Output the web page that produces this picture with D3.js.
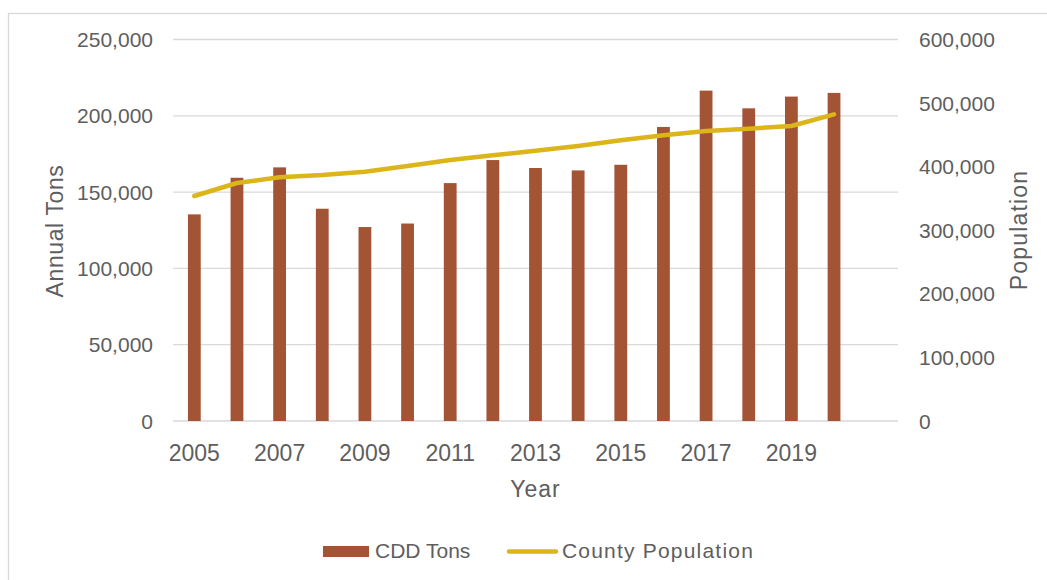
<!DOCTYPE html>
<html>
<head>
<meta charset="utf-8">
<title>CDD Tons and County Population</title>
<script src="https://d3js.org/d3.v7.min.js"></script>
<style>
  body { margin:0; background:#fff; }
  svg text { font-family:"Century Gothic","Liberation Sans",Arial,sans-serif; fill:#5e5e5e; }
</style>
</head>
<body>
<svg width="1047" height="580"></svg>
<script>
// data
const years = ['2005','2006','2007','2008','2009','2010','2011','2012','2013','2014','2015','2016','2017','2018','2019','2020'];
const cddTons = [135400,159400,166200,139100,127100,129400,155900,171000,165800,164200,167900,192700,216500,204900,212600,215000];
const population = [353900,374300,383300,386900,392100,401000,410500,417800,425100,432500,441400,449300,456100,459700,464000,482300];
const leftTicks = [0,50000,100000,150000,200000,250000];
const rightTicks = [0,100000,200000,300000,400000,500000,600000];
const xLabels = ['2005','2007','2009','2011','2013','2015','2017','2019'];

const barColor = '#a35434', lineColor = '#dcb518', gridColor = '#d9d9d9';
const plot = {left:173, right:898, top:39.5, bottom:421};

const svg = d3.select('svg');
const fmt = d3.format(',');

// chart frame
svg.append('rect').attr('x',8.5).attr('y',13.5).attr('width',1100).attr('height',700)
  .attr('fill','none').attr('stroke',gridColor).attr('stroke-width',1.3);

// one empty slot after 2020, like the source chart
const x = d3.scaleBand().domain(years.concat(['_'])).range([plot.left, plot.right])
  .paddingInner(0.7).paddingOuter(0.35);
const yL = d3.scaleLinear().domain([0,250000]).range([plot.bottom, plot.top]);
const yR = d3.scaleLinear().domain([0,600000]).range([plot.bottom, plot.top]);

// gridlines
svg.append('g').selectAll('line').data(leftTicks).join('line')
  .attr('x1',plot.left).attr('x2',plot.right)
  .attr('y1',d=>yL(d)).attr('y2',d=>yL(d))
  .attr('stroke',gridColor).attr('stroke-width',1.3);

// left axis labels
svg.append('g').selectAll('text').data(leftTicks).join('text')
  .attr('x',153).attr('y',d=>yL(d)+7.5).attr('text-anchor','end')
  .style('font-size','21px').text(d=>fmt(d));

// right axis labels
svg.append('g').selectAll('text').data(rightTicks).join('text')
  .attr('x',919).attr('y',d=>yR(d)+7.5).attr('text-anchor','start')
  .style('font-size','21px').text(d=>fmt(d));

// bars
svg.append('g').selectAll('rect').data(years).join('rect')
  .attr('x',d=>x(d)).attr('width',x.bandwidth())
  .attr('y',(d,i)=>yL(cddTons[i])).attr('height',(d,i)=>yL(0)-yL(cddTons[i]))
  .attr('fill',barColor);

// population line
const line = d3.line()
  .x((d,i)=>x(years[i])+x.bandwidth()/2)
  .y(d=>yR(d));
svg.append('path').datum(population).attr('d',line)
  .attr('fill','none').attr('stroke',lineColor).attr('stroke-width',4.5)
  .attr('stroke-linejoin','round').attr('stroke-linecap','round');

// x labels
svg.append('g').selectAll('text').data(xLabels).join('text')
  .attr('x',d=>x(d)+x.bandwidth()/2).attr('y',461).attr('text-anchor','middle')
  .style('font-size','23px').text(d=>d);

// axis titles
svg.append('text').attr('x',(plot.left+plot.right)/2).attr('y',497).attr('text-anchor','middle')
  .style('font-size','23px').style('letter-spacing','1px').text('Year');
svg.append('text').attr('transform','translate(63,231) rotate(-90)').attr('text-anchor','middle')
  .style('font-size','23px').style('letter-spacing','0.6px').text('Annual Tons');
svg.append('text').attr('transform','translate(1027,230) rotate(-90)').attr('text-anchor','middle')
  .style('font-size','23px').style('letter-spacing','1.2px').text('Population');

// legend
const lg = svg.append('g');
lg.append('rect').attr('x',323).attr('y',546).attr('width',46).attr('height',11).attr('fill',barColor);
lg.append('text').attr('x',375).attr('y',558).style('font-size','21px').text('CDD Tons');
lg.append('line').attr('x1',509).attr('x2',556).attr('y1',551.5).attr('y2',551.5)
  .attr('stroke',lineColor).attr('stroke-width',4.5).attr('stroke-linecap','round');
lg.append('text').attr('x',562).attr('y',558).style('font-size','21px').style('letter-spacing','1.2px').text('County Population');
</script>
</body>
</html>
